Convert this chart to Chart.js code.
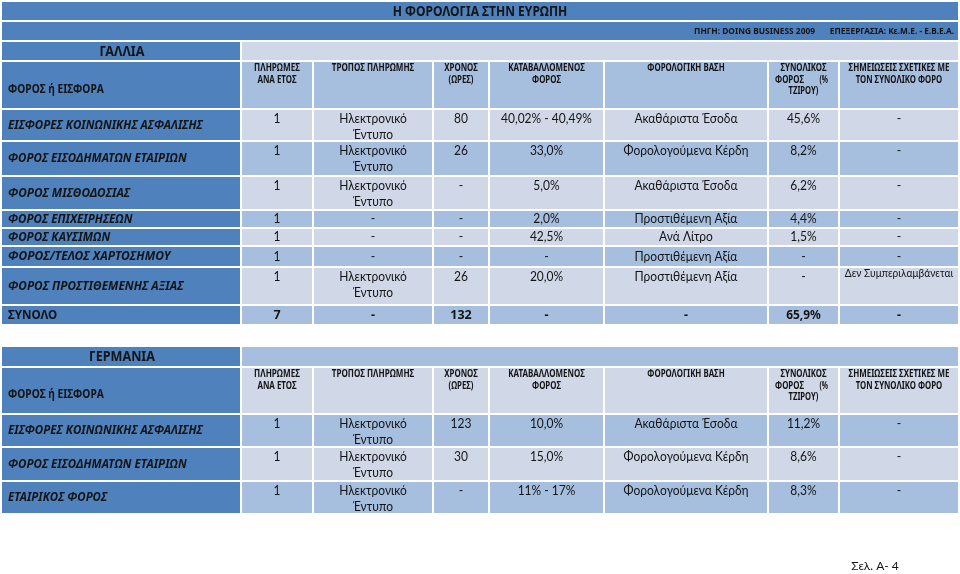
<!DOCTYPE html>
<html>
<head>
<meta charset="utf-8">
<script src="https://cdn.jsdelivr.net/npm/chart.js@4.4.1/dist/chart.umd.min.js"></script>
<style>
  html, body { margin: 0; padding: 0; background: #ffffff; }
  #wrap { width: 960px; height: 574px; }
</style>
</head>
<body>
<div id="wrap"><canvas id="c" width="960" height="574"></canvas></div>
<script>
// ---------------- DATA ----------------
const title = 'Η ΦΟΡΟΛΟΓΙΑ ΣΤΗΝ ΕΥΡΩΠΗ';
const sourceText = 'ΠΗΓΗ: DOING BUSINESS 2009';
const editText = 'ΕΠΕΞΕΡΓΑΣΙΑ: Κε.Μ.Ε. - Ε.Β.Ε.Α.';
const pageText = 'Σελ. Α- 4';

const columnHeaders = [
  'ΦΟΡΟΣ ή ΕΙΣΦΟΡΑ',
  'ΠΛΗΡΩΜΕΣ\nΑΝΑ ΕΤΟΣ',
  'ΤΡΟΠΟΣ ΠΛΗΡΩΜΗΣ',
  'ΧΡΟΝΟΣ\n(ΩΡΕΣ)',
  'ΚΑΤΑΒΑΛΛΟΜΕΝΟΣ\nΦΟΡΟΣ',
  'ΦΟΡΟΛΟΓΙΚΗ ΒΑΣΗ',
  'ΣΥΝΟΛΙΚΟΣ\nΦΟΡΟΣ\t(%\nΤΖΙΡΟΥ)',
  'ΣΗΜΕΙΩΣΕΙΣ ΣΧΕΤΙΚΕΣ ΜΕ\nΤΟΝ ΣΥΝΟΛΙΚΟ ΦΟΡΟ'
];

const franceName = 'ΓΑΛΛΙΑ';
const franceTaxes = ['ΕΙΣΦΟΡΕΣ ΚΟΙΝΩΝΙΚΗΣ ΑΣΦΑΛΙΣΗΣ', 'ΦΟΡΟΣ ΕΙΣΟΔΗΜΑΤΩΝ ΕΤΑΙΡΙΩΝ', 'ΦΟΡΟΣ ΜΙΣΘΟΔΟΣΙΑΣ',
  'ΦΟΡΟΣ ΕΠΙΧΕΙΡΗΣΕΩΝ', 'ΦΟΡΟΣ ΚΑΥΣΙΜΩΝ', 'ΦΟΡΟΣ/ΤΕΛΟΣ ΧΑΡΤΟΣΗΜΟΥ', 'ΦΟΡΟΣ ΠΡΟΣΤΙΘΕΜΕΝΗΣ ΑΞΙΑΣ'];
const francePayments = ['1', '1', '1', '1', '1', '1', '1'];
const franceMethod = ['Ηλεκτρονικό\nΈντυπο', 'Ηλεκτρονικό\nΈντυπο', 'Ηλεκτρονικό\nΈντυπο', '-', '-', '-', 'Ηλεκτρονικό\nΈντυπο'];
const franceHours = ['80', '26', '-', '-', '-', '-', '26'];
const franceRate = ['40,02% - 40,49%', '33,0%', '5,0%', '2,0%', '42,5%', '-', '20,0%'];
const franceBase = ['Ακαθάριστα Έσοδα', 'Φορολογούμενα Κέρδη', 'Ακαθάριστα Έσοδα', 'Προστιθέμενη Αξία',
  'Ανά Λίτρο', 'Προστιθέμενη Αξία', 'Προστιθέμενη Αξία'];
const franceShare = ['45,6%', '8,2%', '6,2%', '4,4%', '1,5%', '-', '-'];
const franceNotes = ['-', '-', '-', '-', '-', '-', 'Δεν Συμπεριλαμβάνεται'];
const franceTotalLabel = 'ΣΥΝΟΛΟ';
const franceTotal = ['7', '-', '132', '-', '-', '65,9%', '-'];

const germanyName = 'ΓΕΡΜΑΝΙΑ';
const germanyTaxes = ['ΕΙΣΦΟΡΕΣ ΚΟΙΝΩΝΙΚΗΣ ΑΣΦΑΛΙΣΗΣ', 'ΦΟΡΟΣ ΕΙΣΟΔΗΜΑΤΩΝ ΕΤΑΙΡΙΩΝ', 'ΕΤΑΙΡΙΚΟΣ ΦΟΡΟΣ'];
const germanyPayments = ['1', '1', '1'];
const germanyMethod = ['Ηλεκτρονικό\nΈντυπο', 'Ηλεκτρονικό\nΈντυπο', 'Ηλεκτρονικό\nΈντυπο'];
const germanyHours = ['123', '30', '-'];
const germanyRate = ['10,0%', '15,0%', '11% - 17%'];
const germanyBase = ['Ακαθάριστα Έσοδα', 'Φορολογούμενα Κέρδη', 'Φορολογούμενα Κέρδη'];
const germanyShare = ['11,2%', '8,6%', '8,3%'];
const germanyNotes = ['-', '-', '-'];

// ---------------- LAYOUT (positions, sizes, styles) ----------------
const COLS = [[2, 240], [242, 312], [314, 432], [434, 488], [490, 603], [605, 767], [769, 838], [840, 958]];
const TABLE_X = [2, 958];
const BAND_TITLE = [2, 20];
const BAND_SOURCE = [22, 40];
const FR_LAYOUT = {
  country: [42, 60], header: [62, 108],
  rows: [[110, 140], [142, 175], [177, 209], [211, 227], [229, 245], [247, 266], [268, 304]],
  total: [306, 324], swap: false
};
const DE_LAYOUT = {
  country: [347, 366], header: [368, 413],
  rows: [[415, 446], [448, 480], [482, 513]],
  total: null, swap: true
};
const C_DARK = '#4F81BD', C_MED = '#A7BFDE', C_LIGHT = '#D0D8E8';
const TXT = '#141414';
const FF = 'Lato, "Noto Sans", "DejaVu Sans", sans-serif';
const BF = '"Noto Sans", "DejaVu Sans", sans-serif';
const ST = {
  title:   { size: 15, bold: true, squeeze: 0.81 },
  country: { size: 15, bold: true, squeeze: 0.87 },
  source:  { size: 9.5, bold: true, squeeze: 0.9 },
  head0:   { size: 12.5, bold: true, squeeze: 0.85 },
  head:    { size: 10, bold: true, squeeze: 0.8 },
  label:   { size: 12.5, bold: true, italic: true, squeeze: 0.965 },
  total0:  { size: 12.5, bold: true, squeeze: 0.93 },
  totalV:  { size: 12.5, bold: true, squeeze: 1.0 },
  cell:    { size: 12.5, squeeze: 0.96 },
  note:    { size: 10.5, squeeze: 0.97 },
  page:    { size: 12, squeeze: 1 }
};

function buildSection(name, taxes, cols, totalLabel, total, layout) {
  return { name, taxes, cols, totalLabel, total, layout };
}
const sections = [
  buildSection(franceName, franceTaxes,
    [francePayments, franceMethod, franceHours, franceRate, franceBase, franceShare, franceNotes],
    franceTotalLabel, franceTotal, FR_LAYOUT),
  buildSection(germanyName, germanyTaxes,
    [germanyPayments, germanyMethod, germanyHours, germanyRate, germanyBase, germanyShare, germanyNotes],
    null, null, DE_LAYOUT)
];

// ---------------- DRAWING through chart scales ----------------
const tablePlugin = {
  id: 'tablePlugin',
  afterDatasetsDraw(chart) {
    const ctx = chart.ctx;
    const sx = chart.scales.x, sy = chart.scales.y;
    const X = v => sx.getPixelForValue(v);
    const Y = v => sy.getPixelForValue(v);
    function rect(x0, x1, y0, y1, color) {
      ctx.fillStyle = color;
      const px0 = X(x0), px1 = X(x1), py0 = Y(y0), py1 = Y(y1);
      ctx.fillRect(Math.min(px0, px1), Math.min(py0, py1), Math.abs(px1 - px0), Math.abs(py1 - py0));
    }
    function text(str, x, y, st, align) {
      // width budget measured in the regular face, then drawn in the final face
      ctx.font = (st.italic ? 'italic ' : '') + st.size + 'px ' + FF;
      const w = ctx.measureText(str).width * (st.squeeze || 1);
      if (st.bold) ctx.font = (st.italic ? 'italic ' : '') + 'bold ' + st.size + 'px ' + BF;
      ctx.textAlign = align || 'center';
      ctx.textBaseline = 'middle';
      ctx.fillStyle = TXT;
      ctx.fillText(str, X(x), Y(y), w);
    }
    ctx.save();
    rect(TABLE_X[0], TABLE_X[1], BAND_TITLE[0], BAND_TITLE[1], C_DARK);
    rect(TABLE_X[0], TABLE_X[1], BAND_SOURCE[0], BAND_SOURCE[1], C_DARK);
    text(title, 480, 11.5, ST.title, 'center');
    text(sourceText, 815, 31.5, ST.source, 'right');
    text(editText, 954, 31.5, ST.source, 'right');

    sections.forEach(sec => {
      const L = sec.layout;
      const lightFirst = !L.swap;
      const cA = lightFirst ? C_LIGHT : C_MED;
      const cB = lightFirst ? C_MED : C_LIGHT;
      rect(COLS[0][0], COLS[0][1], L.country[0], L.country[1], C_DARK);
      rect(COLS[1][0], TABLE_X[1], L.country[0], L.country[1], cA);
      text(sec.name, 122, (L.country[0] + L.country[1]) / 2 + 0.5, ST.country, 'center');
      rect(COLS[0][0], COLS[0][1], L.header[0], L.header[1], C_DARK);
      text(columnHeaders[0], 8, (L.header[0] + L.header[1]) / 2 + 4, ST.head0, 'left');
      for (let c = 1; c < COLS.length; c++) {
        rect(COLS[c][0], COLS[c][1], L.header[0], L.header[1], cB);
        const lines = columnHeaders[c].split('\n');
        lines.forEach((ln, i) => {
          const y = L.header[0] + 6.5 + i * 11.5;
          const cx = (COLS[c][0] + COLS[c][1]) / 2;
          if (ln.indexOf('\t') >= 0) {
            const parts = ln.split('\t');
            text(parts[0], COLS[c][0] + 6, y, ST.head, 'left');
            text(parts[1], COLS[c][1] - 10, y, ST.head, 'right');
          } else {
            text(ln, cx, y, ST.head, 'center');
          }
        });
      }
      L.rows.forEach((r, i) => {
        const bg = (i % 2 === 0) ? cA : cB;
        rect(COLS[0][0], COLS[0][1], r[0], r[1], C_DARK);
        text(sec.taxes[i], 8, (r[0] + r[1]) / 2, ST.label, 'left');
        const tall = (r[1] - r[0]) > 24;
        for (let c = 1; c < COLS.length; c++) {
          rect(COLS[c][0], COLS[c][1], r[0], r[1], bg);
          const val = sec.cols[c - 1][i];
          const cx = (COLS[c][0] + COLS[c][1]) / 2;
          const lines = val.split('\n');
          const isNote = (c === 7 && val.length > 3);
          lines.forEach((ln, k) => {
            let y;
            if (isNote) y = r[0] + 5.5;
            else if (tall) y = r[0] + 8.5 + k * 16;
            else y = (r[0] + r[1]) / 2;
            text(ln, cx, y, isNote ? ST.note : ST.cell, 'center');
          });
        }
      });
      if (L.total) {
        const r = L.total;
        const bg = (L.rows.length % 2 === 0) ? cA : cB;
        rect(COLS[0][0], COLS[0][1], r[0], r[1], C_DARK);
        text(sec.totalLabel, 8, (r[0] + r[1]) / 2, ST.total0, 'left');
        for (let c = 1; c < COLS.length; c++) {
          rect(COLS[c][0], COLS[c][1], r[0], r[1], bg);
          const cx = (COLS[c][0] + COLS[c][1]) / 2;
          text(sec.total[c - 1], cx, (r[0] + r[1]) / 2, ST.totalV, 'center');
        }
      }
    });
    text(pageText, 875, 566, ST.page, 'center');
    ctx.restore();
  }
};

new Chart(document.getElementById('c'), {
  type: 'scatter',
  data: { datasets: [{ data: [], showLine: false }] },
  options: {
    responsive: false,
    devicePixelRatio: 1,
    animation: false,
    layout: { padding: 0 },
    plugins: { legend: { display: false }, tooltip: { enabled: false }, title: { display: false } },
    scales: {
      x: { type: 'linear', min: 0, max: 960, display: false },
      y: { type: 'linear', min: 0, max: 574, reverse: true, display: false }
    }
  },
  plugins: [tablePlugin]
});
</script>
</body>
</html>
